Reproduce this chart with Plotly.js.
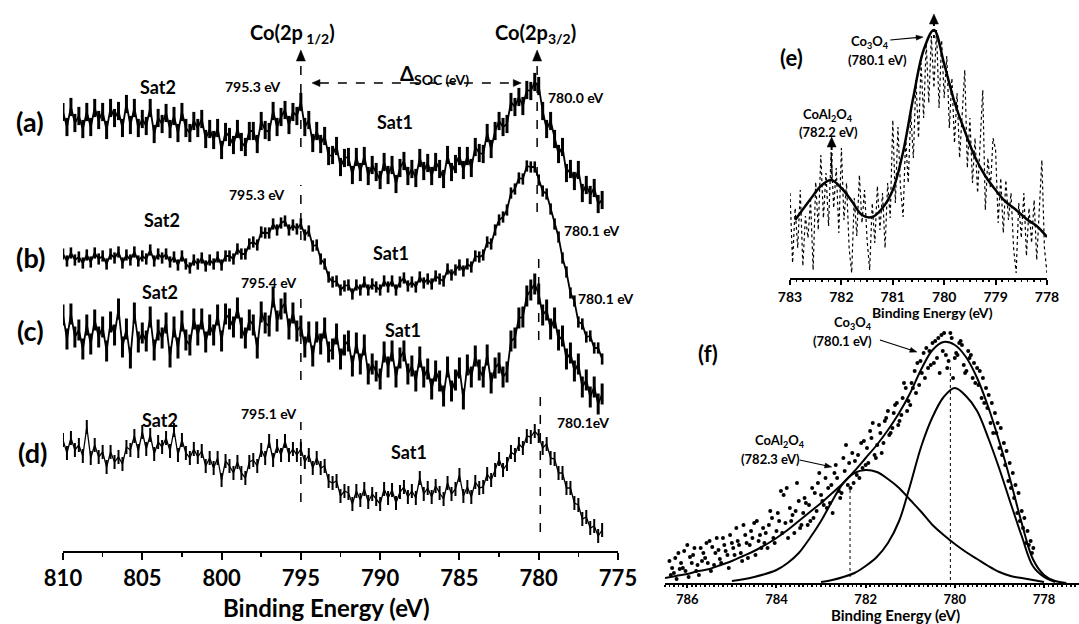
<!DOCTYPE html>
<html><head><meta charset="utf-8">
<script src="https://cdn.plot.ly/plotly-3.0.1.min.js"></script>
<style>html,body{margin:0;padding:0;background:#fff}#chart{width:1079px;height:624px}</style>
</head><body><div id="chart"></div>
<script>
// ---------- DATA ----------
// Main panel: Co 2p spectra, stacked intensity (a.u.), sampled from 810 eV down in 0.25 eV steps
const MAIN_E_START = 810, MAIN_E_STEP = 0.25;
const SPEC_A = [439,424,444,428,435,422,439,424,443,431,439,421,443,433,440,423,447,426,443,423,432,425,443,417,433,427,438,422,435,418,439,423,418,430,423,432,412,422,411,423,401,419,414,406,422,409,404,420,420,407,430,421,419,440,424,434,441,426,439,435,449,424,431,408,420,407,415,395,396,405,384,393,394,376,394,379,395,375,386,379,371,389,376,386,367,383,390,375,382,373,393,380,388,375,389,382,372,396,379,387,395,381,395,383,404,398,397,418,402,420,430,424,427,449,444,454,445,461,460,469,465,440,422,430,412,397,404,378,382,370,381,358,366,356,363,347,351];
const SPEC_B = [297,290,298,291,294,288,296,289,298,292,295,287,297,293,299,288,296,291,299,290,295,292,301,290,297,293,297,289,294,286,295,287,283,291,287,293,285,291,287,294,286,295,295,292,302,297,297,307,309,306,319,318,318,327,321,328,330,321,326,322,327,316,320,305,306,292,287,274,269,270,261,265,266,257,266,261,269,261,267,264,261,270,264,270,261,269,273,265,269,264,274,268,272,267,275,272,270,282,276,281,286,280,287,284,295,294,296,309,307,321,331,334,341,358,362,373,372,385,384,384,371,360,357,342,327,314,293,279,258,250,229,227,214,215,203,203,192];
const SPEC_C = [236,212,237,214,221,202,226,207,231,214,224,200,229,216,242,204,222,193,238,209,218,210,234,201,221,213,228,194,224,203,230,211,206,232,216,232,209,226,216,236,210,237,232,224,243,223,213,231,226,203,239,228,225,254,230,242,248,222,238,220,225,204,219,195,219,207,223,199,202,217,192,206,210,185,208,187,206,177,187,180,172,199,184,200,174,193,200,177,185,170,194,174,182,162,180,170,155,184,160,171,183,152,186,174,195,181,174,196,168,183,188,174,179,210,213,233,234,255,261,267,257,236,241,222,233,211,215,192,198,180,187,164,171,154,164,147,157];
const SPEC_D = [111,98,113,101,106,95,124,93,106,94,99,84,99,89,94,87,104,101,115,100,119,102,116,97,109,104,113,100,121,96,111,98,93,102,94,100,85,93,83,93,71,90,85,78,89,78,73,89,91,85,101,93,110,91,105,96,110,96,102,96,102,89,96,83,93,83,85,70,68,70,55,60,58,47,60,51,62,49,57,52,47,62,53,61,48,59,64,54,60,53,73,57,63,54,65,58,52,68,57,62,76,55,64,54,69,63,64,77,71,81,92,81,87,99,96,107,103,115,114,120,115,103,107,93,92,78,78,63,63,48,46,32,34,23,25,15,21];
const MAIN_TICKS = [810,805,800,795,790,785,780,775];

// Panel (e): raw points (0.05 eV steps from 783 eV) and the fitted curve
const E_RAW_START = 783, E_RAW_STEP = 0.05;
const E_RAW = [85,15,70,30,88,12,62,40,78,8,96,48,123,60,105,52,126,70,110,45,130,58,95,30,5,80,42,103,55,88,38,8,75,35,92,48,85,30,95,60,158,75,151,90,61,140,95,165,120,198,140,215,160,235,175,242,190,248,170,238,180,222,150,200,135,185,120,170,208,110,160,95,140,85,130,188,68,120,90,140,128,55,100,45,98,58,85,30,5,75,40,85,22,70,35,78,18,65,118,30,5];
const E_FIT_E = [782.9,782.6,782.4,782.2,782.0,781.8,781.6,781.4,781.2,781.0,780.8,780.6,780.4,780.2,780.0,779.8,779.6,779.4,779.2,779.0,778.8,778.6,778.4,778.2,778.0];
const E_FIT = [58,79,92,98,90,77,63,61,70,88,126,181,228,248,214,176,147,121,102,88,76,68,59,52,41];

// Panel (f): three interleaved point sets (0.1 eV steps), envelope and two components
const F_SCAN_START = [786.40, 786.37, 786.34], F_SCAN_STEP = 0.1;
const F_SCAN_A = [22,10,30,15,38,20,12,35,25,42,18,33,45,28,40,55,30,48,38,60,42,55,35,65,52,92,60,75,50,82,70,58,95,72,88,105,80,110,92,125,98,130,108,140,118,152,128,158,140,172,155,180,168,195,178,212,198,230,215,240,225,248,228,250,225,240,218,232,205,215,185,195,160,170,135,140,102,110,70,72,40,42];
const F_SCAN_B = [8,25,14,32,6,28,18,22,40,12,30,24,38,15,35,42,22,40,52,28,48,40,58,45,70,50,95,62,72,55,85,78,65,100,82,75,98,118,85,112,120,100,128,115,135,145,125,150,162,148,170,158,185,172,200,190,222,205,232,220,245,232,215,245,230,242,210,225,220,198,205,175,180,150,155,118,120,85,90,55,52,30];
const F_SCAN_C = [15,4,20,12,26,35,8,30,20,36,45,20,32,48,28,38,58,25,45,62,35,50,72,40,62,88,45,68,100,58,80,62,90,110,78,95,70,105,90,138,95,122,105,142,120,160,138,130,165,150,178,162,200,182,195,220,210,235,218,242,210,250,222,205,228,238,212,228,200,212,180,188,150,160,128,132,95,98,62,65,38,35];
const F_ENV_E = [786.5,786.25,786,785.75,785.5,785.25,785,784.75,784.5,784.25,784,783.75,783.5,783.25,783,782.75,782.5,782.25,782,781.75,781.5,781.25,781,780.75,780.5,780.25,780,779.75,779.5,779.25,779,778.75,778.5,778.25,778,777.75,777.5];
const F_ENV = [5,7,9,12,14,18,22,27,32,38,45,53,62,71,80,90,100,112,125,138,153,170,190,214,233,241,238,226,205,176,141,102,60,24,8,2,0];
const F_CO3O4_E = [783,782.75,782.5,782.25,782,781.75,781.5,781.25,781,780.75,780.5,780.25,780,779.75,779.5,779.25,779,778.75,778.5,778.25,778,777.75];
const F_CO3O4 = [1,3,6,10,17,26,40,62,98,137,166,186,195,187,172,145,114,80,47,17,6,1];
const F_COAL_E = [785,784.5,784,783.75,783.5,783.25,783,782.75,782.5,782.25,782,781.75,781.5,781.25,781,780.75,780.5,780.25,780,779.75,779.5,779.25,779,778.75,778.5,778.25,778];
const F_COAL = [2,6,13,20,30,45,62,82,100,110,113,111,104,95,83,71,58,48,39,31,24,17,11,7,5,3,1];

// ---------- BUILD ----------
const W = 1079, H = 624;
const FONT = 'Lato, "Open Sans", sans-serif';
const px = x => x / W, py = y => 1 - y / H;
const grid = (start, step, n) => Array.from({length: n}, (_, k) => +(start - step * k).toFixed(3));

const eMain = grid(MAIN_E_START, MAIN_E_STEP, SPEC_A.length);
const eRaw = grid(E_RAW_START, E_RAW_STEP, E_RAW.length);
const fA = grid(F_SCAN_START[0], F_SCAN_STEP, F_SCAN_A.length);
const fB = grid(F_SCAN_START[1], F_SCAN_STEP, F_SCAN_B.length);
const fC = grid(F_SCAN_START[2], F_SCAN_STEP, F_SCAN_C.length);

// axis geometry (pixel domains) and pixels per data unit (x reversed => negative)
const AX = {
  main: {xr: 'x', yr: 'y', xd: [63, 618], yd: [551, 10], xrange: [810, 775], yrange: [0, 541]},
  e:    {xr: 'x2', yr: 'y2', xd: [790, 1047], yd: [278, 10], xrange: [783, 778], yrange: [0, 268]},
  f:    {xr: 'x3', yr: 'y3', xd: [665, 1079], yd: [583, 310], xrange: [786.5, 777.215], yrange: [0, 273]}
};
for (const k in AX) {
  const a = AX[k];
  a.kx = (a.xd[1] - a.xd[0]) / (a.xrange[1] - a.xrange[0]);
  a.ky = (a.yd[0] - a.yd[1]) / (a.yrange[1] - a.yrange[0]);
}

function spec(y, lw, msize, mw) {
  return {x: eMain, y: y, xaxis: 'x', yaxis: 'y', type: 'scatter', mode: 'lines+markers',
    line: {color: '#000', width: lw},
    marker: {symbol: 'line-ns', size: msize, color: '#000', line: {color: '#000', width: mw}},
    hoverinfo: 'skip'};
}
const traces = [
  spec(SPEC_A, 1.8, 13, 3),
  spec(SPEC_B, 1.8, 8, 2.6),
  spec(SPEC_C, 1.8, 15, 3),
  spec(SPEC_D, 1.3, 10, 2),
  {x: eRaw, y: E_RAW, xaxis: 'x2', yaxis: 'y2', type: 'scatter', mode: 'lines',
   line: {color: '#000', width: 1.2, dash: 'dot'}, hoverinfo: 'skip'},
  {x: E_FIT_E, y: E_FIT, xaxis: 'x2', yaxis: 'y2', type: 'scatter', mode: 'lines',
   line: {color: '#000', width: 2.5, shape: 'spline', smoothing: 1}, hoverinfo: 'skip'},
  {x: fA.concat(fB, fC), y: F_SCAN_A.concat(F_SCAN_B, F_SCAN_C), xaxis: 'x3', yaxis: 'y3', type: 'scatter', mode: 'markers',
   marker: {color: '#000', size: 4}, hoverinfo: 'skip'},
  {x: F_ENV_E, y: F_ENV, xaxis: 'x3', yaxis: 'y3', type: 'scatter', mode: 'lines',
   line: {color: '#000', width: 2, shape: 'spline'}, hoverinfo: 'skip'},
  {x: F_CO3O4_E, y: F_CO3O4, xaxis: 'x3', yaxis: 'y3', type: 'scatter', mode: 'lines',
   line: {color: '#000', width: 2, shape: 'spline'}, hoverinfo: 'skip'},
  {x: F_COAL_E, y: F_COAL, xaxis: 'x3', yaxis: 'y3', type: 'scatter', mode: 'lines',
   line: {color: '#000', width: 2, shape: 'spline'}, hoverinfo: 'skip'}
];

function seg(a, x0, y0, x1, y1, dash, w) {
  return {type: 'line', xref: a.xr, yref: a.yr, x0: x0, x1: x1, y0: y0, y1: y1,
    line: {color: '#000', width: w || 1.5, dash: dash || 'solid'}};
}
// filled triangular arrow head whose tip is at (x1,y1), pointing from (x0,y0)
function headShape(a, x0, y0, x1, y1, L, Wd) {
  const dxp = (x1 - x0) * a.kx, dyp = (y1 - y0) * a.ky;
  const len = Math.hypot(dxp, dyp), ux = dxp / len, uy = dyp / len;
  const nx = -uy, ny = ux;
  const bx = -L * ux, by = -L * uy;
  const p1 = [x1 + (bx + nx * Wd / 2) / a.kx, y1 + (by + ny * Wd / 2) / a.ky];
  const p2 = [x1 + (bx - nx * Wd / 2) / a.kx, y1 + (by - ny * Wd / 2) / a.ky];
  return {type: 'path', xref: a.xr, yref: a.yr, fillcolor: '#000', line: {color: '#000', width: 0.5},
    path: `M ${x1},${y1} L ${p1[0]},${p1[1]} L ${p2[0]},${p2[1]} Z`};
}
const M = AX.main, Ep = AX.e, Fp = AX.f;
const shapes = [
  // main panel: dashed guides and arrows
  seg(M, 795, 404, 795, 491, 'dash'), seg(M, 780.1, 404, 780.1, 491, 'dash'),
  headShape(M, 795, 480, 795, 501, 11, 9), headShape(M, 780.1, 480, 780.1, 501, 11, 9),
  seg(M, 793.8, 468, 781.6, 468, 'dash'),
  headShape(M, 793.0, 468, 794.3, 468, 8, 7), headShape(M, 782.4, 468, 781.1, 468, 8, 7),
  seg(M, 795, 311, 795, 366, 'dash'), seg(M, 780.1, 339, 780.1, 386, 'dash'),
  seg(M, 795, 171, 795, 258, 'dash'), seg(M, 780.0, 211, 780.0, 294, 'dash'),
  seg(M, 795, 49, 795, 129, 'dash'), seg(M, 779.9, 19, 779.9, 158, 'dash'),
  // panel (e)
  seg(Ep, 782.19, 98, 782.19, 131, 'dot', 2), headShape(Ep, 782.19, 120, 782.19, 141, 10, 9),
  seg(Ep, 780.2, 240, 780.2, 254, 'dot', 2), headShape(Ep, 780.2, 240, 780.2, 264, 10, 9),
  seg(Ep, 781.05, 238, 780.5, 240.6, 'solid', 1.2), headShape(Ep, 781.05, 238, 780.41, 241, 7, 5),
  // panel (f)
  seg(Fp, 782.35, 6, 782.35, 96, 'dot', 1), seg(Fp, 780.1, 3, 780.1, 218, 'dot', 1),
  seg(Fp, 781.68, 243, 780.95, 232.5, 'solid', 1.2), headShape(Fp, 781.68, 243, 780.85, 231, 7, 5),
  seg(Fp, 783.48, 123, 782.86, 117, 'solid', 1.2), headShape(Fp, 783.48, 123, 782.76, 116, 7, 5)
];

function txt(x, y, text, size) {
  return {xref: 'paper', yref: 'paper', x: px(x), y: py(y), text: text, showarrow: false,
    xanchor: 'center', yanchor: 'middle', font: {family: FONT, size: size, color: '#000', weight: 700}};
}
const annotations = [
  txt(292, 33, 'Co(2p<sub> 1/2</sub>)', 20),
  txt(535, 33, 'Co(2p<sub>3/2</sub>)', 20),
  txt(434, 74, 'Δ<sub>SOC (eV)</sub>', 20),
  txt(158, 87, 'Sat2', 18), txt(253, 87, '795.3 eV', 14), txt(576, 97, '780.0 eV', 14),
  txt(30, 122, '(a)', 27), txt(395, 122, 'Sat1', 18),
  txt(257, 194, '795.3 eV', 14), txt(162, 220, 'Sat2', 18), txt(30, 257, '(b)', 27),
  txt(391, 253, 'Sat1', 18), txt(592, 230, '780.1 eV', 14),
  txt(269, 283, '795.4 eV', 14), txt(160, 292, 'Sat2', 18), txt(30, 330, '(c)', 27),
  txt(403, 330, 'Sat1', 18), txt(606, 298, '780.1 eV', 14),
  txt(269, 413, '795.1 eV', 14), txt(160, 420, 'Sat2', 18), txt(32, 452, '(d)', 27),
  txt(409, 452, 'Sat1', 18), txt(583, 422, '780.1eV', 14),
  txt(326, 607, 'Binding Energy (eV)', 24),
  // panel (e)
  txt(791, 57, '(e)', 22),
  txt(870, 42, 'Co<sub>3</sub>O<sub>4</sub>', 13), txt(877, 60, '(780.1 eV)', 13),
  txt(828, 115, 'CoAl<sub>2</sub>O<sub>4</sub>', 13), txt(828, 132, '(782.2 eV)', 13),
  txt(932, 312, 'Binding Energy (eV)', 14),
  // panel (f)
  txt(708, 353, '(f)', 22),
  txt(853, 323, 'Co<sub>3</sub>O<sub>4</sub>', 13), txt(842, 341, '(780.1 eV)', 13),
  txt(780, 441, 'CoAl<sub>2</sub>O<sub>4</sub>', 13), txt(770, 459, '(782.3 eV)', 13),
  txt(895, 615, 'Binding Energy (eV)', 15)
];

function xax(a, dtick, minor, fsize, tlen) {
  return {domain: [px(a.xd[0]), Math.min(1, px(a.xd[1]))], range: a.xrange, anchor: a.yr,
    showgrid: false, zeroline: false,
    showline: true, linecolor: '#000', linewidth: 2, ticks: 'outside', ticklen: tlen, tickwidth: 2, tickcolor: '#000',
    dtick: dtick, tick0: 0, minor: {dtick: minor, ticks: 'outside', ticklen: Math.max(2, tlen - 3), tickwidth: 1.5, tickcolor: '#000'},
    tickfont: {family: FONT, size: fsize, color: '#000', weight: 700}, fixedrange: true};
}
function yax(a) {
  return {domain: [py(a.yd[0]), py(a.yd[1])], range: a.yrange, anchor: a.xr, visible: false,
    showgrid: false, zeroline: false, fixedrange: true};
}
const layout = {
  width: W, height: H, margin: {l: 0, r: 0, t: 0, b: 0}, showlegend: false,
  paper_bgcolor: '#fff', plot_bgcolor: 'rgba(0,0,0,0)',
  xaxis: Object.assign(xax(M, 5, 2.5, 22, 7), {tickvals: MAIN_TICKS}),
  yaxis: yax(M),
  xaxis2: Object.assign(xax(Ep, 1, 0.125, 14, 5), {ticklabelstandoff: 0}),
  yaxis2: yax(Ep),
  xaxis3: Object.assign(xax(Fp, 2, 0.1, 13, 3), {ticklabelstandoff: 0}),
  yaxis3: yax(Fp),
  shapes: shapes, annotations: annotations
};
Plotly.newPlot('chart', traces, layout, {displayModeBar: false, staticPlot: true});
</script></body></html>
